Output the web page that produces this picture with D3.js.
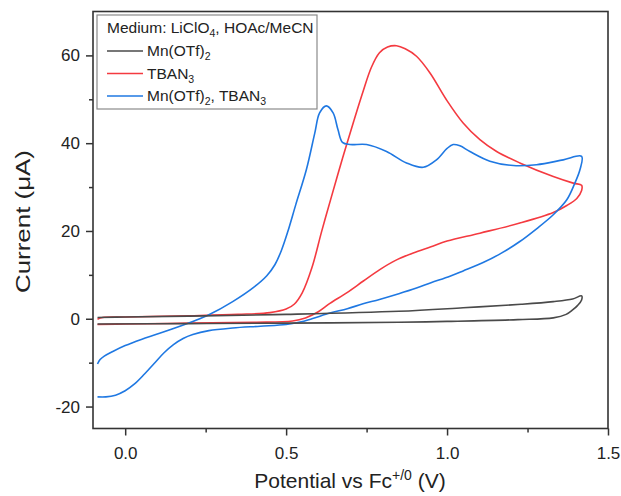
<!DOCTYPE html>
<html><head><meta charset="utf-8">
<script src="https://cdn.jsdelivr.net/npm/d3@7"></script>
<style>body{margin:0;background:#fff} text{font-family:Arial,"Liberation Sans",sans-serif;fill:#222}</style>
</head><body><svg id="c" width="621" height="496"></svg>
<script>
// ---- data ----
const mnPotential = [-0.086, 0.0, 0.2, 0.5, 0.85, 1.05, 1.23, 1.33, 1.39, 1.418, 1.418, 1.405, 1.39, 1.37, 1.33, 1.22, 1.0, 0.85, 0.5, 0.2, -0.086];
const mnCurrent   = [0.3, 0.4, 0.6, 1.0, 1.7, 2.5, 3.3, 3.9, 4.5, 5.2, 4.3, 3.0, 2.0, 1.0, 0.2, -0.2, -0.6, -0.8, -1.0, -1.1, -1.2];

const tbanPotential = [-0.086, -0.07, 0.0, 0.2, 0.35, 0.45, 0.5, 0.525, 0.55, 0.58, 0.61, 0.64, 0.675, 0.71, 0.74, 0.765, 0.79, 0.815, 0.843, 0.87, 0.905, 0.947, 0.998, 1.05, 1.102, 1.154, 1.226, 1.33, 1.392, 1.418,
                       1.418, 1.403, 1.372, 1.33, 1.226, 1.102, 1.0, 0.95, 0.895, 0.84, 0.791, 0.74, 0.688, 0.636, 0.6, 0.56, 0.52, 0.4, 0.2, 0.0, -0.086];
const tbanCurrent   = [-0.1, 0.3, 0.4, 0.7, 1.0, 1.4, 2.2, 3.3, 5.9, 11.6, 19.8, 27.6, 36.5, 45.0, 52.0, 57.3, 60.6, 61.9, 62.2, 61.5, 59.8, 56.0, 49.9, 44.6, 40.8, 38.1, 35.5, 32.4, 30.9, 30.4,
                       29.2, 27.4, 25.8, 24.2, 21.8, 19.5, 17.7, 16.4, 15.0, 13.3, 11.2, 8.6, 5.9, 3.5, 1.6, 0.2, -0.5, -0.8, -1.0, -1.2, -1.3];

const mixPotential = [-0.086, -0.078, -0.065, -0.04, 0.0, 0.05, 0.107, 0.21, 0.26, 0.334, 0.40, 0.44, 0.465, 0.485, 0.505, 0.53, 0.563, 0.589, 0.604, 0.625, 0.646, 0.661, 0.675, 0.698, 0.75, 0.812, 0.874, 0.926, 0.967, 1.0, 1.019, 1.04, 1.071, 1.133, 1.206, 1.278, 1.361, 1.418,
                      1.413, 1.397, 1.372, 1.33, 1.278, 1.226, 1.17, 1.112, 1.05, 1.009, 0.95, 0.905, 0.85, 0.79, 0.739, 0.69, 0.636, 0.58, 0.54, 0.5, 0.42, 0.334, 0.26, 0.21, 0.18, 0.15, 0.12, 0.09, 0.06, 0.03, 0.0, -0.03, -0.06, -0.086];
const mixCurrent   = [-10.3, -9.3, -8.5, -7.5, -6.1, -4.7, -3.3, -0.6, 0.9, 3.9, 7.2, 9.8, 12.3, 15.5, 19.8, 26.0, 34.0, 42.3, 46.9, 48.5, 46.9, 43.1, 40.2, 39.7, 39.7, 38.1, 35.5, 34.5, 36.2, 38.8, 39.7, 39.4, 38.1, 35.9, 34.9, 35.1, 36.2, 37.0,
                      34.0, 30.9, 27.1, 23.7, 20.5, 17.6, 15.0, 12.8, 10.9, 9.7, 8.2, 7.0, 5.7, 4.4, 3.4, 2.3, 1.3, 0.0, -0.8, -1.3, -1.7, -2.1, -2.7, -3.6, -4.5, -5.9, -7.8, -10.2, -12.6, -14.8, -16.4, -17.4, -17.8, -17.8];

const xTicks = [0, 0.5, 1.0, 1.5];
const xMinorTicks = [0.25, 0.75, 1.25];
const yTicks = [-20, 0, 20, 40, 60];
const yMinorTicks = [-10, 10, 30, 50];

const legendTitle = [["Medium: LiClO", false], ["4", true], [", HOAc/MeCN", false]];
const seriesNames = [
  [["Mn(OTf)", false], ["2", true]],
  [["TBAN", false], ["3", true]],
  [["Mn(OTf)", false], ["2", true], [", TBAN", false], ["3", true]]
];
const seriesColors = ["#4a4a4a", "#f43a40", "#1f78e2"];

// ---- chart ----
const svg = d3.select("#c");
const L = 93, R = 608, T = 11.5, B = 428.5;
const x = d3.scaleLinear().domain([-0.1, 1.5]).range([L, R]);
const y = d3.scaleLinear().domain([-25, 70]).range([B, T]);

const series = [
  d3.zip(mnPotential, mnCurrent),
  d3.zip(tbanPotential, tbanCurrent),
  d3.zip(mixPotential, mixCurrent)
];

// axes
const fmtY = d => d < 0 ? "-" + Math.abs(d) : String(d);
const gx = svg.append("g").attr("transform", `translate(0,${B})`)
  .call(d3.axisBottom(x).tickValues(xTicks).tickSize(7).tickPadding(11).tickFormat(d => d.toFixed(1)));
const gxm = svg.append("g").attr("transform", `translate(0,${B})`)
  .call(d3.axisBottom(x).tickValues(xMinorTicks).tickSize(4).tickFormat(""));
const gy = svg.append("g").attr("transform", `translate(${L},0)`)
  .call(d3.axisLeft(y).tickValues(yTicks).tickSize(7).tickPadding(6).tickFormat(fmtY));
const gym = svg.append("g").attr("transform", `translate(${L},0)`)
  .call(d3.axisLeft(y).tickValues(yMinorTicks).tickSize(4).tickFormat(""));
[gx, gxm, gy, gym].forEach(g => {
  g.select(".domain").remove();
  g.selectAll("line").attr("stroke", "#333").attr("stroke-width", 1.5);
  g.selectAll("text").attr("font-size", 17).attr("fill", "#222")
    .style("font-family", "Arial, 'Liberation Sans', sans-serif");
});

// curves
const line = d3.line().x(d => x(d[0])).y(d => y(d[1])).curve(d3.curveCatmullRom.alpha(0.5));
const drawOrder = [1, 2, 0];
drawOrder.forEach(i => {
  svg.append("path").datum(series[i]).attr("d", line)
    .attr("fill", "none").attr("stroke", seriesColors[i]).attr("stroke-width", 1.6)
    .attr("stroke-linejoin", "round");
});

// frame
svg.append("rect").attr("x", L).attr("y", T).attr("width", R - L).attr("height", B - T)
  .attr("fill", "none").attr("stroke", "#333").attr("stroke-width", 1.6);

// rich text helper
function rich(sel, parts, size) {
  let shifted = 0;
  parts.forEach(([t, sub]) => {
    const ts = sel.append("tspan").text(t);
    if (sub) {
      ts.attr("font-size", size * 0.68).attr("dy", 4 - shifted);
      shifted = 4;
    } else {
      ts.attr("font-size", size).attr("dy", -shifted);
      shifted = 0;
    }
  });
}

// legend
const lg = svg.append("g");
lg.append("rect").attr("x", 97).attr("y", 15).attr("width", 220).attr("height", 94)
  .attr("fill", "#fff").attr("stroke", "#8a8a8a").attr("stroke-width", 1.2);
rich(lg.append("text").attr("x", 107).attr("y", 33), legendTitle, 15.5);
const rowY = [56, 78.5, 101];
seriesNames.forEach((parts, i) => {
  lg.append("line").attr("x1", 107).attr("x2", 143).attr("y1", rowY[i] - 5).attr("y2", rowY[i] - 5)
    .attr("stroke", seriesColors[i]).attr("stroke-width", 1.6);
  rich(lg.append("text").attr("x", 147).attr("y", rowY[i]), parts, 15.5);
});

// axis titles
const xt = svg.append("text").attr("x", 350).attr("y", 488).attr("text-anchor", "middle").attr("font-size", 21);
xt.append("tspan").text("Potential vs Fc");
xt.append("tspan").text("+/0").attr("font-size", 14).attr("dy", -8);
xt.append("tspan").text(" (V)").attr("dy", 8);

svg.append("text").attr("transform", "translate(30,221.5) rotate(-90)")
  .attr("text-anchor", "middle").attr("font-size", 20)
  .attr("textLength", 143).attr("lengthAdjust", "spacingAndGlyphs")
  .text("Current (\u03bcA)");
</script></body></html>
